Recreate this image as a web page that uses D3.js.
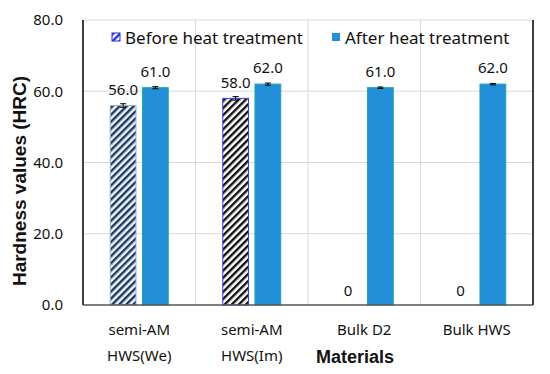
<!DOCTYPE html>
<html>
<head>
<script src="https://d3js.org/d3.v7.min.js"></script>
<style>
  body { margin: 0; background: #fff; }
  text { font-family: "Noto Sans", "Open Sans", sans-serif; fill: #111; }
</style>
</head>
<body>
<svg width="550" height="374"></svg>
<script>
var categories = ["semi-AM\nHWS(We)", "semi-AM\nHWS(Im)", "Bulk D2", "Bulk HWS"];
var seriesNames = ["Before heat treatment", "After heat treatment"];
var before = [56.0, 58.0, 0, 0];
var after = [61.0, 62.0, 61.0, 62.0];
var beforeErr = [0.5, 0.5, 0, 0];
var afterErr = [0.3, 0.3, 0.2, 0.2];
var yTicks = [0, 20, 40, 60, 80];

var margin = { top: 20, right: 17, bottom: 69, left: 83 };
var width = 550, height = 374;

var svg = d3.select("svg");

// pattern fills for the "before" bars
var defs = svg.append("defs");
function hatch(id, bg, line) {
  var p = defs.append("pattern")
    .attr("id", id)
    .attr("patternUnits", "userSpaceOnUse")
    .attr("width", 5).attr("height", 5)
    .attr("patternTransform", "rotate(45)");
  p.append("rect").attr("width", 5).attr("height", 5).attr("fill", bg);
  p.append("rect").attr("width", 2.4).attr("height", 5).attr("fill", line);
}
hatch("h0", "#eaf3fb", "#1e3a5f");
hatch("h1", "#ffffff", "#111111");
hatch("hl", "#ffffff", "#2a2ae0");

var x = d3.scaleBand()
  .domain(categories)
  .range([margin.left, width - margin.right]);

var inner = d3.scaleBand()
  .domain([0, 1])
  .range([-29, 29])
  .paddingInner(0.2);

var y = d3.scaleLinear()
  .domain([0, 80])
  .range([height - margin.bottom, margin.top]);

// gridlines
svg.append("g")
  .selectAll("line")
  .data(yTicks.slice(1))
  .join("line")
  .attr("x1", margin.left).attr("x2", width - margin.right)
  .attr("y1", d => y(d)).attr("y2", d => y(d))
  .attr("stroke", "#d9d9d9");

svg.append("g")
  .selectAll("line")
  .data(categories.slice(1))
  .join("line")
  .attr("x1", d => x(d)).attr("x2", d => x(d))
  .attr("y1", margin.top).attr("y2", height - margin.bottom)
  .attr("stroke", "#d9d9d9");

// frame
svg.append("line")
  .attr("x1", margin.left).attr("x2", margin.left)
  .attr("y1", margin.top).attr("y2", height - margin.bottom)
  .attr("stroke", "#000").attr("stroke-width", 1.5);
svg.append("line")
  .attr("x1", width - margin.right).attr("x2", width - margin.right)
  .attr("y1", margin.top).attr("y2", height - margin.bottom)
  .attr("stroke", "#000").attr("stroke-width", 1.5);

// bars
var groups = svg.append("g")
  .selectAll("g")
  .data(categories)
  .join("g")
  .attr("transform", d => `translate(${x(d) + x.bandwidth() / 2},0)`);

groups.append("rect")
  .attr("x", inner(0))
  .attr("width", inner.bandwidth())
  .attr("y", (d, i) => y(before[i]))
  .attr("height", (d, i) => y(0) - y(before[i]))
  .attr("fill", (d, i) => i == 0 ? "url(#h0)" : "url(#h1)")
  .attr("stroke", (d, i) => i == 0 ? "#9fb4c8" : "#3b3bf0")
  .attr("stroke-width", (d, i) => before[i] > 0 ? 1 : 0);

groups.append("rect")
  .attr("x", inner(1))
  .attr("width", inner.bandwidth())
  .attr("y", (d, i) => y(after[i]))
  .attr("height", (d, i) => y(0) - y(after[i]))
  .attr("fill", "#228fd8")
  .attr("stroke", "#1fa3a6")
  .attr("stroke-width", 1);

// error bars
function errBar(sel, xc, vals, errs) {
  sel.each(function (d, i) {
    if (vals[i] <= 0) return;
    var g = d3.select(this);
    var cx = xc;
    g.append("line").attr("x1", cx).attr("x2", cx)
      .attr("y1", y(vals[i] - errs[i])).attr("y2", y(vals[i] + errs[i]))
      .attr("stroke", "#000");
    [vals[i] - errs[i], vals[i] + errs[i]].forEach(v => {
      g.append("line").attr("x1", cx - 3).attr("x2", cx + 3)
        .attr("y1", y(v)).attr("y2", y(v)).attr("stroke", "#000");
    });
  });
}
errBar(groups, inner(0) + inner.bandwidth() / 2, before, beforeErr);
errBar(groups, inner(1) + inner.bandwidth() / 2, after, afterErr);

// value labels
groups.append("text")
  .attr("x", inner(0) + inner.bandwidth() / 2)
  .attr("y", (d, i) => y(before[i] + beforeErr[i]) - 9)
  .attr("text-anchor", "middle")
  .style("font-size", "15px")
  .text((d, i) => before[i] > 0 ? before[i].toFixed(1) : "0");

groups.append("text")
  .attr("x", inner(1) + inner.bandwidth() / 2)
  .attr("y", (d, i) => y(after[i] + afterErr[i]) - 10)
  .attr("text-anchor", "middle")
  .style("font-size", "15px")
  .text((d, i) => after[i].toFixed(1));

// bottom axis line
svg.append("line")
  .attr("x1", margin.left).attr("x2", width - margin.right)
  .attr("y1", y(0)).attr("y2", y(0))
  .attr("stroke", "#555").attr("stroke-width", 1.5);

// y axis labels
var yAxis = g => g
  .attr("transform", `translate(${margin.left},0)`)
  .call(d3.axisLeft(y).tickValues(yTicks).tickFormat(d3.format(".1f")).tickSize(0).tickPadding(20))
  .call(g => g.select(".domain").remove())
  .call(g => g.selectAll("text").style("font-size", "15px").attr("fill", "#111")
    .style("font-family", "'Noto Sans', sans-serif"));
svg.append("g").call(yAxis);

// x labels
var xl = svg.append("g")
  .selectAll("text")
  .data(categories)
  .join("text")
  .attr("text-anchor", "middle")
  .style("font-size", "15px")
  .attr("transform", d => `translate(${x(d) + x.bandwidth() / 2},335)`);
xl.selectAll("tspan")
  .data(d => d.split("\n"))
  .join("tspan")
  .attr("x", 0)
  .attr("dy", (d, i) => i == 0 ? 0 : 26)
  .text(d => d);

// axis titles
svg.append("text")
  .attr("x", 355).attr("y", 363)
  .attr("text-anchor", "middle")
  .style("font-family", "'Liberation Sans', Arial, sans-serif")
  .style("font-weight", "bold")
  .style("font-size", "18px")
  .text("Materials");

svg.append("text")
  .attr("transform", `translate(26,181) rotate(-90)`)
  .attr("text-anchor", "middle")
  .style("font-family", "'Liberation Sans', Arial, sans-serif")
  .style("font-weight", "bold")
  .style("font-size", "19px")
  .text("Hardness values (HRC)");

// legend
var legX = [112, 332];
var leg = svg.append("g")
  .selectAll("g")
  .data(seriesNames)
  .join("g")
  .attr("transform", (d, i) => `translate(${legX[i]},33)`);
leg.append("rect")
  .attr("width", 8).attr("height", 8)
  .attr("fill", (d, i) => i == 0 ? "url(#hl)" : "#228fd8")
  .attr("stroke", (d, i) => i == 0 ? "#2a2ae0" : "none");
leg.append("text")
  .attr("x", 13).attr("y", 11)
  .style("font-size", "17px")
  .text(d => d);
</script>
</body>
</html>
